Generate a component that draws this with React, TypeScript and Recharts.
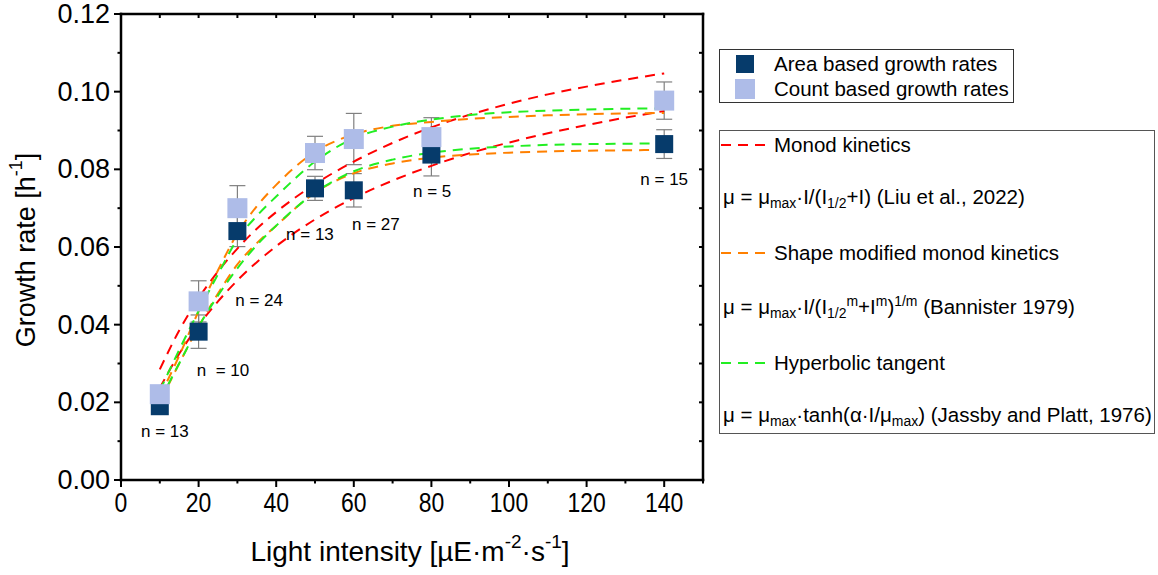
import React from "react";
import { ComposedChart, Scatter, Line, XAxis, YAxis, ErrorBar, Label } from "recharts";

const FONT = "'Liberation Sans', Arial, sans-serif";

// measured growth rates (h^-1) at each light level
const lightLevels = [10, 20, 30, 50, 60, 80, 140];
const areaRates = [0.0190, 0.0382, 0.0641, 0.0751, 0.0746, 0.0838, 0.0865];
const areaErrors = [0.0005, 0.0043, 0.0040, 0.0031, 0.0043, 0.0055, 0.0037];
const countRates = [0.0221, 0.0460, 0.0700, 0.0842, 0.0878, 0.0883, 0.0977];
const countErrors = [0.0012, 0.0053, 0.0058, 0.0043, 0.0066, 0.0050, 0.0048];

// fitted curves
const fitLight = [10, 15, 20, 25, 30, 35, 40, 50, 60, 70, 80, 90, 100, 110, 120, 130, 140];
const monodCount = [0.0285, 0.0385, 0.0468, 0.0537, 0.0596, 0.0647, 0.069, 0.0762, 0.082, 0.0868, 0.0908, 0.0941, 0.0969, 0.0993, 0.1013, 0.1031, 0.1047];
const monodArea = [0.0237, 0.0325, 0.0398, 0.046, 0.0514, 0.0561, 0.0602, 0.0671, 0.0726, 0.0771, 0.0809, 0.0842, 0.0869, 0.0893, 0.0914, 0.0933, 0.095];
const shapeCount = [0.0215, 0.032, 0.0435, 0.054, 0.0635, 0.0705, 0.076, 0.0845, 0.089, 0.0912, 0.0922, 0.093, 0.0935, 0.0939, 0.0942, 0.0944, 0.0945];
const shapeArea = [0.02, 0.03, 0.0395, 0.048, 0.0555, 0.061, 0.0655, 0.074, 0.079, 0.0815, 0.083, 0.0838, 0.0843, 0.0846, 0.0848, 0.0849, 0.085];
const tanhCount = [0.023, 0.0335, 0.0435, 0.053, 0.062, 0.068, 0.073, 0.082, 0.088, 0.091, 0.0928, 0.094, 0.0947, 0.0951, 0.0954, 0.0956, 0.0957];
const tanhArea = [0.0205, 0.03, 0.0395, 0.0475, 0.0545, 0.0605, 0.0655, 0.074, 0.0795, 0.0825, 0.0843, 0.0853, 0.0859, 0.0863, 0.0865, 0.0866, 0.0867];

// sample size annotations
const sampleSizes = ["n = 13", "n  = 10", "n = 24", "n = 13", "n = 27", "n = 5", "n = 15"];
const sampleAtLight = [11.3, 26.3, 35.6, 48.7, 65.7, 80.2, 140];
const sampleAtRate = [0.0124, 0.0281, 0.0461, 0.0631, 0.0659, 0.0742, 0.0773];

const xTicks = [0, 10, 20, 30, 40, 50, 60, 70, 80, 90, 100, 110, 120, 130, 140, 150];
const topTicks = [10, 20, 30, 40, 50, 60, 70, 80, 90, 100, 110, 120, 130, 140];
const yTicks = [0, 0.01, 0.02, 0.03, 0.04, 0.05, 0.06, 0.07, 0.08, 0.09, 0.1, 0.11, 0.12];

const areaData = lightLevels.map((I, i) => ({ I, mu: areaRates[i], err: areaErrors[i] }));
const countData = lightLevels.map((I, i) => ({ I, mu: countRates[i], err: countErrors[i] }));
const fit = (vals: number[]) => fitLight.map((I, i) => ({ I, mu: vals[i] }));
const noteData = sampleSizes.map((text, i) => ({ I: sampleAtLight[i], mu: sampleAtRate[i], text }));

const RED = "#ff0000";
const ORANGE = "#ff8000";
const GREEN = "#22ee22";
const DARK = "#063b6b";
const LIGHT = "#aebce8";

const square = (size: number, fill: string) => (p: any) =>
  <rect x={p.cx - size / 2} y={p.cy - size / 2} width={size} height={size} fill={fill} />;

const BottomTick = ({ x, y, payload }: any) => {
  const v = payload.value;
  const major = v % 20 === 0 && v <= 140;
  return (
    <g>
      <line x1={x} y1={y} x2={x} y2={y + (major ? 7 : 3.5)} stroke="#000" strokeWidth={2} />
      {major && (
        <text transform={`translate(${x},${y + 22}) scale(0.82,1)`} textAnchor="middle" dominantBaseline="central"
          fontSize={28} fontFamily={FONT} fill="#000">{v}</text>
      )}
    </g>
  );
};

const LeftTick = ({ x, y, payload }: any) => {
  const v = payload.value;
  const major = Math.round(v * 100) % 2 === 0;
  return (
    <g>
      <line x1={x - (major ? 7 : 3.5)} y1={y} x2={x} y2={y} stroke="#000" strokeWidth={2} />
      {major && (
        <text x={x - 11} y={y} textAnchor="end" dominantBaseline="central" fontSize={27}
          fontFamily={FONT} fill="#000">{v.toFixed(2)}</text>
      )}
    </g>
  );
};

const TopTick = ({ x, y }: any) => <line x1={x} y1={y} x2={x} y2={y + 4} stroke="#000" strokeWidth={2} />;
const RightTick = ({ x, y }: any) => <line x1={x - 4} y1={y} x2={x} y2={y} stroke="#000" strokeWidth={2} />;

const axisLine = { stroke: "#000", strokeWidth: 2.5, strokeLinecap: "square" as const };

const Sub = ({ children }: any) => <span style={{ fontSize: "0.68em", verticalAlign: "-0.3em" }}>{children}</span>;
const Sup = ({ children }: any) => <span style={{ fontSize: "0.68em", verticalAlign: "0.55em" }}>{children}</span>;

const Dash = ({ color }: { color: string }) => (
  <svg width={50} height={6} style={{ position: "absolute", left: 721, top: -3 }}>
    <line x1={0} y1={3} x2={50} y2={3} stroke={color} strokeWidth={2} strokeDasharray="10 7" />
  </svg>
);

const Row = ({ top, left, children }: any) => (
  <div style={{ position: "absolute", top, left, transform: "translateY(-50%)", lineHeight: 1, fontSize: 20.5, whiteSpace: "nowrap" }}>
    {children}
  </div>
);

export default function App() {
  return (
    <div style={{ position: "absolute", left: 0, top: 0, width: 1158, height: 575, background: "#fff", fontFamily: FONT, color: "#000" }}>
      <ComposedChart width={1158} height={575} margin={{ top: 13, right: 454, bottom: 0, left: 0 }}>
        <XAxis xAxisId="b" type="number" dataKey="I" domain={[0, 150]} ticks={xTicks} interval={0} height={95}
          tickSize={0} tickMargin={0} tickLine={false} axisLine={axisLine} tick={BottomTick}>
          <Label content={() => (
            <text x={410} y={551} textAnchor="middle" dominantBaseline="central" fontSize={28} fontFamily={FONT} fill="#000">
              Light intensity [µE·m<tspan dy={-10} fontSize={19}>-2</tspan><tspan dy={10}>·s</tspan>
              <tspan dy={-10} fontSize={19}>-1</tspan><tspan dy={10}>]</tspan>
            </text>
          )} />
        </XAxis>
        <XAxis xAxisId="t" orientation="top" type="number" dataKey="I" domain={[0, 150]} ticks={topTicks} interval={0} height={1}
          tickSize={0} tickMargin={0} tickLine={false} axisLine={axisLine} tick={TopTick} allowDataOverflow />
        <YAxis yAxisId="l" type="number" dataKey="mu" domain={[0, 0.12]} ticks={yTicks} interval={0} width={121}
          tickSize={0} tickMargin={0} tickLine={false} axisLine={axisLine} tick={LeftTick}>
          <Label content={() => (
            <text transform="translate(26,250) rotate(-90)" textAnchor="middle" dominantBaseline="central" fontSize={27}
              fontFamily={FONT} fill="#000">
              Growth rate [h<tspan dy={-10} fontSize={18}>-1</tspan><tspan dy={10}>]</tspan>
            </text>
          )} />
        </YAxis>
        <YAxis yAxisId="r" orientation="right" type="number" dataKey="mu" domain={[0, 0.12]} ticks={yTicks} interval={0} width={1}
          tickSize={0} tickMargin={0} tickLine={false} axisLine={axisLine} tick={RightTick} allowDataOverflow />

        {/* invisible series so the mirrored frame axes get drawn */}
        <Line xAxisId="t" yAxisId="r" data={countData} dataKey="mu" stroke="none" dot={false} activeDot={false}
          isAnimationActive={false} />

        <Scatter xAxisId="b" yAxisId="l" data={areaData} dataKey="mu" shape={square(18, DARK)} isAnimationActive={false}>
          <ErrorBar dataKey="err" direction="y" width={8} stroke="#808080" strokeWidth={1.2} />
        </Scatter>
        <Scatter xAxisId="b" yAxisId="l" data={countData} dataKey="mu" shape={square(20, LIGHT)} isAnimationActive={false}>
          <ErrorBar dataKey="err" direction="y" width={8} stroke="#808080" strokeWidth={1.2} />
        </Scatter>

        {[
          [monodCount, RED], [monodArea, RED],
          [shapeCount, ORANGE], [shapeArea, ORANGE],
          [tanhCount, GREEN], [tanhArea, GREEN],
        ].map(([vals, color], i) => (
          <Line key={i} xAxisId="b" yAxisId="l" data={fit(vals as number[])} dataKey="mu" type="monotone"
            stroke={color as string} strokeWidth={2} strokeDasharray="10 7" dot={false} isAnimationActive={false} />
        ))}

        <Scatter xAxisId="b" yAxisId="l" data={noteData} dataKey="mu" isAnimationActive={false}
          shape={(p: any) => (
            <text x={p.cx} y={p.cy} textAnchor="middle" dominantBaseline="central" fontSize={17}
              fontFamily={FONT} fill="#000" style={{ whiteSpace: "pre" }}>{p.payload.text}</text>
          )} />
      </ComposedChart>

      {/* symbol legend */}
      <div style={{ position: "absolute", left: 719, top: 49, width: 293, height: 52, border: "1.3px solid #333" }} />
      <div style={{ position: "absolute", left: 736, top: 55, width: 18, height: 18, background: DARK }} />
      <div style={{ position: "absolute", left: 735, top: 79, width: 20, height: 20, background: LIGHT }} />
      <Row top={64} left={774}>Area based growth rates</Row>
      <Row top={89} left={774}>Count based growth rates</Row>

      {/* model legend */}
      <div style={{ position: "absolute", left: 719, top: 130, width: 434, height: 302, border: "1.3px solid #555" }} />
      <div style={{ position: "absolute", left: 0, top: 145 }}><Dash color={RED} /></div>
      <Row top={145} left={774}>Monod kinetics</Row>
      <Row top={199} left={723}>μ = μ<Sub>max</Sub>·I/(I<Sub>1/2</Sub>+I) (Liu et al., 2022)</Row>
      <div style={{ position: "absolute", left: 0, top: 253 }}><Dash color={ORANGE} /></div>
      <Row top={253} left={774}>Shape modified monod kinetics</Row>
      <Row top={308} left={723}>μ = μ<Sub>max</Sub>·I/(I<Sub>1/2</Sub><Sup>m</Sup>+I<Sup>m</Sup>)<Sup>1/m</Sup> (Bannister 1979)</Row>
      <div style={{ position: "absolute", left: 0, top: 363 }}><Dash color={GREEN} /></div>
      <Row top={363} left={774}>Hyperbolic tangent</Row>
      <Row top={417} left={723}>μ = μ<Sub>max</Sub>·tanh(α·I/μ<Sub>max</Sub>) (Jassby and Platt, 1976)</Row>
    </div>
  );
}
